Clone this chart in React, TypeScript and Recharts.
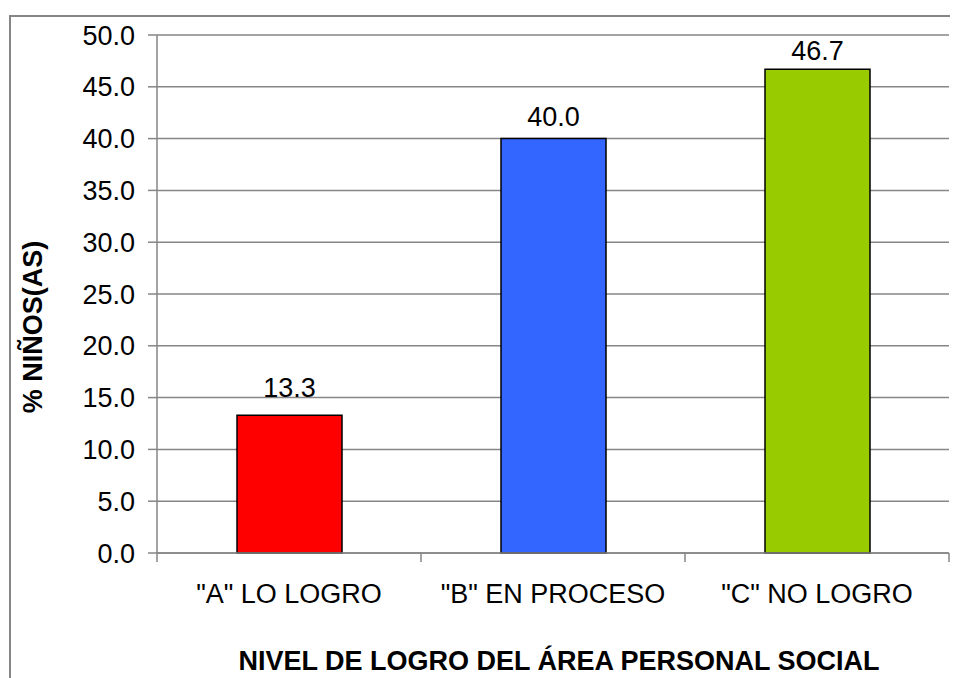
import React, { useLayoutEffect } from 'react';
import { BarChart, Bar, XAxis, YAxis, CartesianGrid, Cell, LabelList } from 'recharts';

const categories = ['"A" LO LOGRO', '"B" EN PROCESO', '"C" NO LOGRO'];
const values = [13.3, 40.0, 46.7];
const barColors = ['#FF0000', '#3366FF', '#99CC00'];
const yTicks = [0, 5, 10, 15, 20, 25, 30, 35, 40, 45, 50];
const yAxisTitle = '% NIÑOS(AS)';
const xAxisTitle = 'NIVEL DE LOGRO DEL ÁREA PERSONAL SOCIAL';

const data = categories.map((name, i) => ({ name, value: values[i] }));

const W = 950;
const H = 670;
const MARGIN = { top: 27, right: 9, left: 0, bottom: 0 };
const Y_AXIS_W = 149;
const X_AXIS_H = 125;
const PLOT_W = W - MARGIN.left - MARGIN.right - Y_AXIS_W;
const HALF_BAND = PLOT_W / categories.length / 2;
const LABEL_GAPS = [18, 13, 9];
const FONT = '"Liberation Sans", Arial, sans-serif';
const FS = 27;
const GRAY = '#868686';

const CategoryTick = (props: any) => {
  const { x, y, payload, index } = props;
  const last = index === categories.length - 1;
  return (
    <g>
      <line x1={x - HALF_BAND} y1={y} x2={x - HALF_BAND} y2={y + 9} stroke={GRAY} strokeWidth={1.5} />
      {last && <line x1={x + HALF_BAND} y1={y} x2={x + HALF_BAND} y2={y + 9} stroke={GRAY} strokeWidth={1.5} />}
      <text x={x} y={y + 50} textAnchor="middle" fontSize={FS} fontFamily={FONT} fill="#000">
        {payload.value}
      </text>
    </g>
  );
};

const ValueLabel = (props: any) => {
  const { x, y, width, value } = props;
  const idx = values.indexOf(value);
  const gap = LABEL_GAPS[idx] ?? 10;
  return (
    <text x={x + width / 2} y={y - gap} textAnchor="middle" fontSize={FS} fontFamily={FONT} fill="#000">
      {Number(value).toFixed(1)}
    </text>
  );
};

const YTitle = (props: any) => {
  const vb = props.viewBox || {};
  const cx = 34;
  const cy = vb.y + vb.height / 2 + 33;
  return (
    <text
      x={cx}
      y={cy}
      transform={`rotate(-90, ${cx}, ${cy})`}
      textAnchor="middle"
      fontSize={FS}
      fontWeight="bold"
      fontFamily={FONT}
      fill="#000"
    >
      {yAxisTitle}
    </text>
  );
};

const XTitle = (props: any) => {
  const vb = props.viewBox || {};
  const cx = vb.x + vb.width / 2 + 6;
  const by = vb.y + vb.height - 8;
  return (
    <text x={cx} y={by} textAnchor="middle" fontSize={FS} fontWeight="bold" fontFamily={FONT} fill="#000">
      {xAxisTitle}
    </text>
  );
};

export default function App() {
  useLayoutEffect(() => {
    document.documentElement.style.overflow = 'hidden';
    document.body.style.overflow = 'hidden';
  }, []);
  return (
    <div style={{ position: 'relative', width: W, height: H, overflow: 'hidden', background: '#fff' }}>
      <div style={{ position: 'absolute', left: 1, top: 7, width: 2000, height: 2, background: GRAY }} />
      <div style={{ position: 'absolute', left: 1, top: 7, width: 2, height: 2000, background: GRAY }} />
      <div style={{ position: 'absolute', left: 0, top: 0 }}>
        <BarChart width={W} height={H} data={data} margin={MARGIN}>
          <CartesianGrid vertical={false} stroke={GRAY} strokeWidth={1.5} />
          <XAxis
            dataKey="name"
            height={X_AXIS_H}
            axisLine={{ stroke: GRAY, strokeWidth: 1.5 }}
            tickLine={false}
            tickSize={0}
            tickMargin={0}
            interval={0}
            tick={<CategoryTick />}
            label={<XTitle />}
          />
          <YAxis
            width={Y_AXIS_W}
            domain={[0, 50]}
            ticks={yTicks}
            interval={0}
            tickFormatter={(v: number) => v.toFixed(1)}
            axisLine={{ stroke: GRAY, strokeWidth: 1.5 }}
            tickLine={{ stroke: GRAY, strokeWidth: 1.5 }}
            tickSize={9}
            tickMargin={13}
            tick={{ fontSize: FS, fill: '#000', fontFamily: FONT }}
            label={<YTitle />}
          />
          <Bar dataKey="value" barSize={105} stroke="#000" strokeWidth={1.5} isAnimationActive={false}>
            {data.map((d, i) => (
              <Cell key={d.name} fill={barColors[i]} />
            ))}
            <LabelList dataKey="value" content={<ValueLabel />} />
          </Bar>
        </BarChart>
      </div>
    </div>
  );
}
